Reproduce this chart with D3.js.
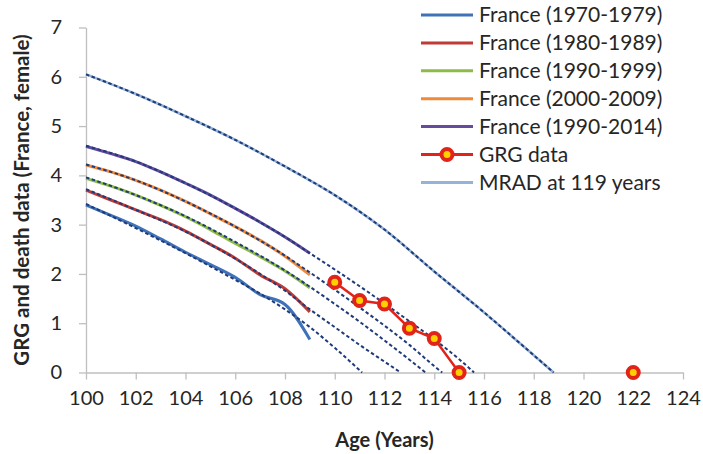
<!DOCTYPE html>
<html>
<head>
<meta charset="utf-8">
<script src="https://cdn.jsdelivr.net/npm/d3@7"></script>
<style>
  body { margin: 0; background: #fff; }
  svg text { font-family: Lato, "Open Sans", sans-serif; fill: #262626; }
</style>
</head>
<body>
<svg id="chart" width="703" height="454"></svg>
<script>
// ages for the observed france curves
const ages = [100, 101, 102, 103, 104, 105, 106, 107, 108, 109];

const france7079 = [3.40, 3.19, 2.97, 2.71, 2.44, 2.19, 1.93, 1.58, 1.38, 0.67];
const france8089 = [3.70, 3.50, 3.30, 3.10, 2.87, 2.60, 2.32, 1.98, 1.70, 1.23];
const france9099 = [3.94, 3.78, 3.60, 3.39, 3.16, 2.90, 2.62, 2.35, 2.06, 1.72];
const france0009 = [4.21, 4.07, 3.90, 3.70, 3.47, 3.22, 2.96, 2.68, 2.36, 1.98];
const france9014 = [4.59, 4.44, 4.28, 4.07, 3.84, 3.60, 3.33, 3.05, 2.75, 2.42];

// fitted curves (dashed)
const fit7079Ages = [100, 102, 104, 106, 107, 108, 109, 110, 111.1];
const fit7079 =     [3.42, 2.93, 2.42, 1.88, 1.60, 1.28, 0.92, 0.50, 0];
const fit8089Ages = [100, 102, 104, 106, 107, 108, 109, 110, 111, 112, 112.65];
const fit8089 =     [3.72, 3.30, 2.86, 2.31, 2.00, 1.66, 1.28, 0.92, 0.56, 0.22, 0];
const fit9099Ages = [100, 102, 104, 106, 108, 109, 110, 111, 112, 113, 113.65];
const fit9099 =     [3.96, 3.60, 3.17, 2.65, 2.07, 1.74, 1.39, 1.03, 0.65, 0.26, 0];
const fit0009Ages = [100, 102, 104, 106, 108, 109, 110, 111, 112, 113, 114, 114.32];
const fit0009 =     [4.22, 3.90, 3.47, 2.96, 2.37, 2.03, 1.68, 1.32, 0.95, 0.56, 0.13, 0];
const fit9014Ages = [100, 102, 104, 106, 108, 109, 110, 111, 112, 113, 114, 115, 115.6];
const fit9014 =     [4.60, 4.28, 3.84, 3.33, 2.75, 2.42, 2.09, 1.75, 1.40, 1.04, 0.67, 0.27, 0];

const mradAges = [100, 102, 104, 106, 108, 110, 112, 114, 116, 118, 118.8];
const mrad =     [6.05, 5.65, 5.20, 4.72, 4.18, 3.60, 2.90, 2.05, 1.22, 0.35, 0];

const grgAges =   [110, 111, 112, 113, 114, 115, 116, 122];
const grgValues = [1.83, 1.46, 1.39, 0.90, 0.69, 0, null, 0];

const xTicks = d3.range(100, 125, 2);
const yTicks = [0, 1, 2, 3, 4, 5, 6, 7];

const legendNames = ["France (1970-1979)", "France (1980-1989)", "France (1990-1999)",
  "France (2000-2009)", "France (1990-2014)", "GRG data", "MRAD at 119 years"];
const colors = ["#3f72b8", "#be3b36", "#8dbb46", "#f08a3a", "#654a9e", "#e2231a", "#95b3d7"];
const fitColor = "#1f3b7a";

const svg = d3.select("#chart");

const x = d3.scaleLinear().domain([100, 124]).range([86, 683]);
const y = d3.scaleLinear().domain([0, 7]).range([372.5, 27.5]);

// axes
const xAxis = svg.append("g")
  .attr("transform", "translate(0," + y(0) + ")")
  .call(d3.axisBottom(x).tickValues(xTicks).tickSize(7).tickPadding(11).tickSizeOuter(0));
const yAxis = svg.append("g")
  .attr("transform", "translate(" + x(100) + ",0)")
  .call(d3.axisLeft(y).tickValues(yTicks).tickFormat(d3.format("d"))
    .tickSize(7).tickPadding(17).tickSizeOuter(0));

[xAxis, yAxis].forEach(g => {
  g.select(".domain").attr("stroke", "#bfbfbf").attr("stroke-width", 1.3);
  g.selectAll(".tick line").attr("stroke", "#bfbfbf").attr("stroke-width", 1.3);
  g.selectAll(".tick text").attr("font-size", 20).attr("fill", "#262626")
    .style("font-family", "Lato, sans-serif");
});

const line = d3.line()
  .defined(d => d[1] != null)
  .x(d => x(d[0])).y(d => y(d[1]))
  .curve(d3.curveMonotoneX);

function zipped(a, b) { return a.map((v, i) => [v, b[i]]); }

// MRAD light blue underlay
svg.append("path").attr("d", line(zipped(mradAges, mrad)))
  .attr("fill", "none").attr("stroke", colors[6]).attr("stroke-width", 2.6);

// observed france curves
const observed = [france7079, france8089, france9099, france0009, france9014];
observed.forEach((vals, i) => {
  svg.append("path").attr("d", line(zipped(ages, vals)))
    .attr("fill", "none").attr("stroke", colors[i]).attr("stroke-width", 3);
});

// dashed fits
const fits = [[fit7079Ages, fit7079], [fit8089Ages, fit8089], [fit9099Ages, fit9099],
  [fit0009Ages, fit0009], [fit9014Ages, fit9014], [mradAges, mrad]];
fits.forEach(f => {
  svg.append("path").attr("d", line(zipped(f[0], f[1])))
    .attr("fill", "none").attr("stroke", fitColor).attr("stroke-width", 2)
    .attr("stroke-dasharray", "3.5,2.5");
});

// GRG data
const grg = zipped(grgAges, grgValues);
svg.append("path").attr("d", d3.line().defined(d => d[1] != null)
    .x(d => x(d[0])).y(d => y(d[1]))(grg))
  .attr("fill", "none").attr("stroke", colors[5]).attr("stroke-width", 2.5);
svg.selectAll(".grg").data(grg.filter(d => d[1] != null)).enter()
  .append("circle").attr("class", "grg")
  .attr("cx", d => x(d[0])).attr("cy", d => y(d[1])).attr("r", 5.5)
  .attr("fill", "#ffd000").attr("stroke", "#e2231a").attr("stroke-width", 4);

// legend
const lg = svg.append("g");
legendNames.forEach((name, i) => {
  const ly = 15 + i * 27.9;
  lg.append("line").attr("x1", 421).attr("x2", 473).attr("y1", ly).attr("y2", ly)
    .attr("stroke", colors[i]).attr("stroke-width", 3);
  if (i == 5) {
    lg.append("circle").attr("cx", 447).attr("cy", ly).attr("r", 5.5)
      .attr("fill", "#ffd000").attr("stroke", "#e2231a").attr("stroke-width", 4);
  }
  lg.append("text").attr("x", 479).attr("y", ly).attr("dy", "0.35em")
    .attr("font-size", 21).text(name);
});

// axis titles
svg.append("text").attr("x", x(112)).attr("y", 447).attr("text-anchor", "middle")
  .attr("font-size", 20).attr("font-weight", "bold").text("Age (Years)");
svg.append("text").attr("transform", "translate(29,200) rotate(-90)")
  .attr("text-anchor", "middle").attr("font-size", 20.5).attr("font-weight", "bold")
  .text("GRG and death data (France, female)");
</script>
</body>
</html>
